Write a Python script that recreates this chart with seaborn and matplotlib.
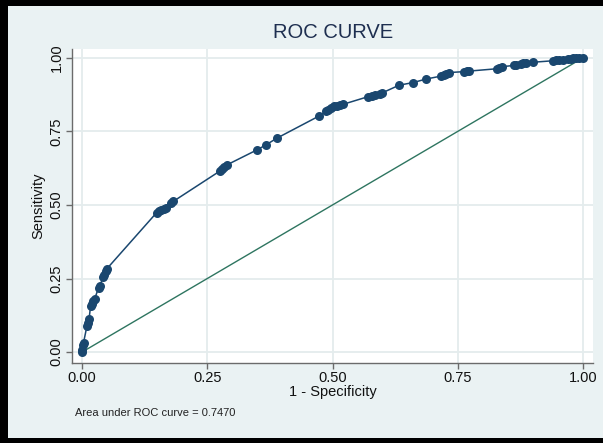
import numpy as np
import pandas as pd
import matplotlib
matplotlib.use("Agg")
import matplotlib.pyplot as plt
from matplotlib.patches import Rectangle
import seaborn as sns

# ROC points (1 - specificity, sensitivity)
fpr = [0.000, 0.000, 0.002, 0.003, 0.010, 0.012, 0.014, 0.017, 0.019, 0.022,
       0.025, 0.033, 0.036, 0.042, 0.044, 0.047, 0.049, 0.149, 0.153, 0.158,
       0.163, 0.168, 0.178, 0.182, 0.275, 0.279, 0.284, 0.289, 0.349, 0.367,
       0.389, 0.474, 0.488, 0.492, 0.497, 0.503, 0.508, 0.515, 0.521, 0.571,
       0.578, 0.585, 0.594, 0.598, 0.633, 0.661, 0.687, 0.717, 0.723, 0.727,
       0.733, 0.762, 0.768, 0.773, 0.829, 0.833, 0.838, 0.862, 0.866, 0.876,
       0.880, 0.886, 0.900, 0.940, 0.946, 0.952, 0.960, 0.971, 0.977, 0.981,
       0.987, 0.993, 1.000]
tpr = [0.000, 0.008, 0.024, 0.032, 0.090, 0.100, 0.112, 0.155, 0.163, 0.175,
       0.180, 0.218, 0.226, 0.255, 0.262, 0.274, 0.282, 0.474, 0.479, 0.483,
       0.487, 0.491, 0.505, 0.512, 0.615, 0.622, 0.629, 0.636, 0.687, 0.704,
       0.727, 0.803, 0.818, 0.824, 0.831, 0.835, 0.838, 0.840, 0.842, 0.868,
       0.871, 0.872, 0.876, 0.880, 0.907, 0.916, 0.928, 0.938, 0.941, 0.945,
       0.950, 0.953, 0.955, 0.955, 0.963, 0.966, 0.970, 0.974, 0.976, 0.980,
       0.982, 0.983, 0.985, 0.990, 0.991, 0.993, 0.994, 0.996, 0.997, 0.998,
       0.999, 1.000, 1.000]
ref_x = [0.0, 1.0]
ref_y = [0.0, 1.0]
ticks = [0.0, 0.25, 0.5, 0.75, 1.0]
tick_labels = ["0.00", "0.25", "0.50", "0.75", "1.00"]
auc_text = "Area under ROC curve = 0.7470"

BG = "#eaf2f3"
NAVY = "#1a476f"
GREEN = "#2e7560"

sns.set_style("white")
plt.rcParams["font.family"] = ["Liberation Sans", "DejaVu Sans"]

fig = plt.figure(figsize=(6.03, 4.43), dpi=100)
fig.patch.set_facecolor("black")
# light Stata-style background inside a black frame
fig.add_artist(Rectangle((8 / 603, 5 / 443), 1 - 8 / 603, (443 - 11) / 443,
                         transform=fig.transFigure, facecolor=BG,
                         edgecolor="none", zorder=0))

ax = fig.add_axes([72 / 603, 80 / 443, (593 - 72) / 603, (363 - 49) / 443])
ax.set_facecolor("white")

df = pd.DataFrame({"fpr": fpr, "tpr": tpr})
sns.lineplot(data=df, x="fpr", y="tpr", sort=False, estimator=None, ax=ax,
             color=NAVY, linewidth=1.1, marker="o", markersize=6.5,
             markeredgewidth=0, markerfacecolor=NAVY, zorder=3)
sns.lineplot(x=ref_x, y=ref_y, ax=ax, color=GREEN, linewidth=1.0, zorder=2)

ax.set_xlim(-0.02, 1.02)
ax.set_ylim(-0.037, 1.03)
ax.set_xticks(ticks)
ax.set_xticklabels(tick_labels)
ax.set_yticks(ticks)
ax.set_yticklabels(tick_labels, rotation=90, va="center")
ax.grid(True, color="#e4eced", linewidth=1.3)
ax.set_axisbelow(True)

for side in ["top", "right"]:
    ax.spines[side].set_visible(False)
for side in ["left", "bottom"]:
    ax.spines[side].set_color("#6b6b6b")
    ax.spines[side].set_linewidth(1.0)

ax.tick_params(axis="both", direction="out", length=4, width=1.0,
               color="#6b6b6b", labelsize=10.5, labelcolor="#111111", pad=2,
               bottom=True, left=True)
ax.set_xlabel("1 - Specificity", fontsize=10.5, color="#111111", labelpad=0)
ax.set_ylabel("Sensitivity", fontsize=10.5, color="#111111", labelpad=3)

fig.text(333 / 603, 1 - 33 / 443, "ROC CURVE", ha="center", va="center",
         fontsize=14.5, color="#1e2f50")
fig.text(75 / 603, 1 - 413 / 443, auc_text, ha="left", va="center",
         fontsize=8, color="#222222")

fig.savefig("out.png", dpi=100, facecolor=fig.get_facecolor())
plt.close(fig)
